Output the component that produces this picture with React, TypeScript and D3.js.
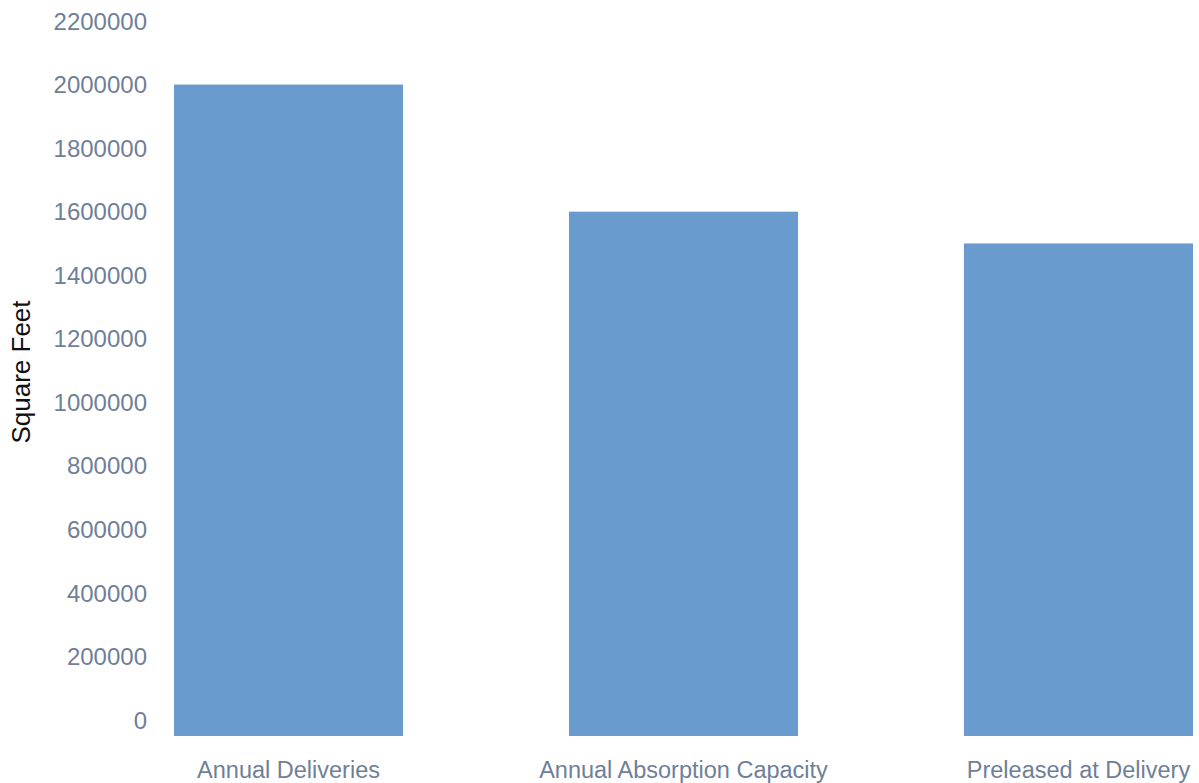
import React from "react";
import * as d3 from "d3";

const categories: string[] = ["Annual Deliveries", "Annual Absorption Capacity", "Preleased at Delivery"];
const squareFeet: number[] = [2000000, 1600000, 1500000];
const yTicks: number[] = [0, 200000, 400000, 600000, 800000, 1000000, 1200000, 1400000, 1600000, 1800000, 2000000, 2200000];

const W = 1199;
const H = 783;
const plot = { left: 174, right: 1193, top: 21, bottom: 736 };
const barColor = "#699bce";
const tickColor = "#6f7f98";
const font = "'Liberation Sans', Arial, Helvetica, sans-serif";

export default function App() {
  const x = d3
    .scaleBand<string>()
    .domain(categories)
    .range([plot.left, plot.right])
    .paddingInner(0.42)
    .paddingOuter(0);

  const y = d3.scaleLinear().domain([-50000, 2200000]).range([plot.bottom, plot.top]);

  return (
    <svg
      width={W}
      height={H}
      style={{ position: "absolute", left: 0, top: 0, background: "#fff" }}
      fontFamily={font}
    >
      {categories.map((c, i) => (
        <rect
          key={c}
          x={x(c)}
          y={y(squareFeet[i])}
          width={x.bandwidth()}
          height={plot.bottom - y(squareFeet[i])}
          fill={barColor}
        />
      ))}

      {yTicks.map((t) => (
        <text
          key={t}
          x={147}
          y={y(t)}
          textAnchor="end"
          dominantBaseline="central"
          fontSize={24}
          fill={tickColor}
        >
          {t}
        </text>
      ))}

      {categories.map((c) => (
        <text
          key={c}
          x={(x(c) ?? 0) + x.bandwidth() / 2}
          y={778}
          textAnchor="middle"
          fontSize={23.5}
          fill={tickColor}
        >
          {c}
        </text>
      ))}

      <text
        transform={`translate(30, 372) rotate(-90)`}
        textAnchor="middle"
        fontSize={26}
        fill="#111"
      >
        Square Feet
      </text>
    </svg>
  );
}
